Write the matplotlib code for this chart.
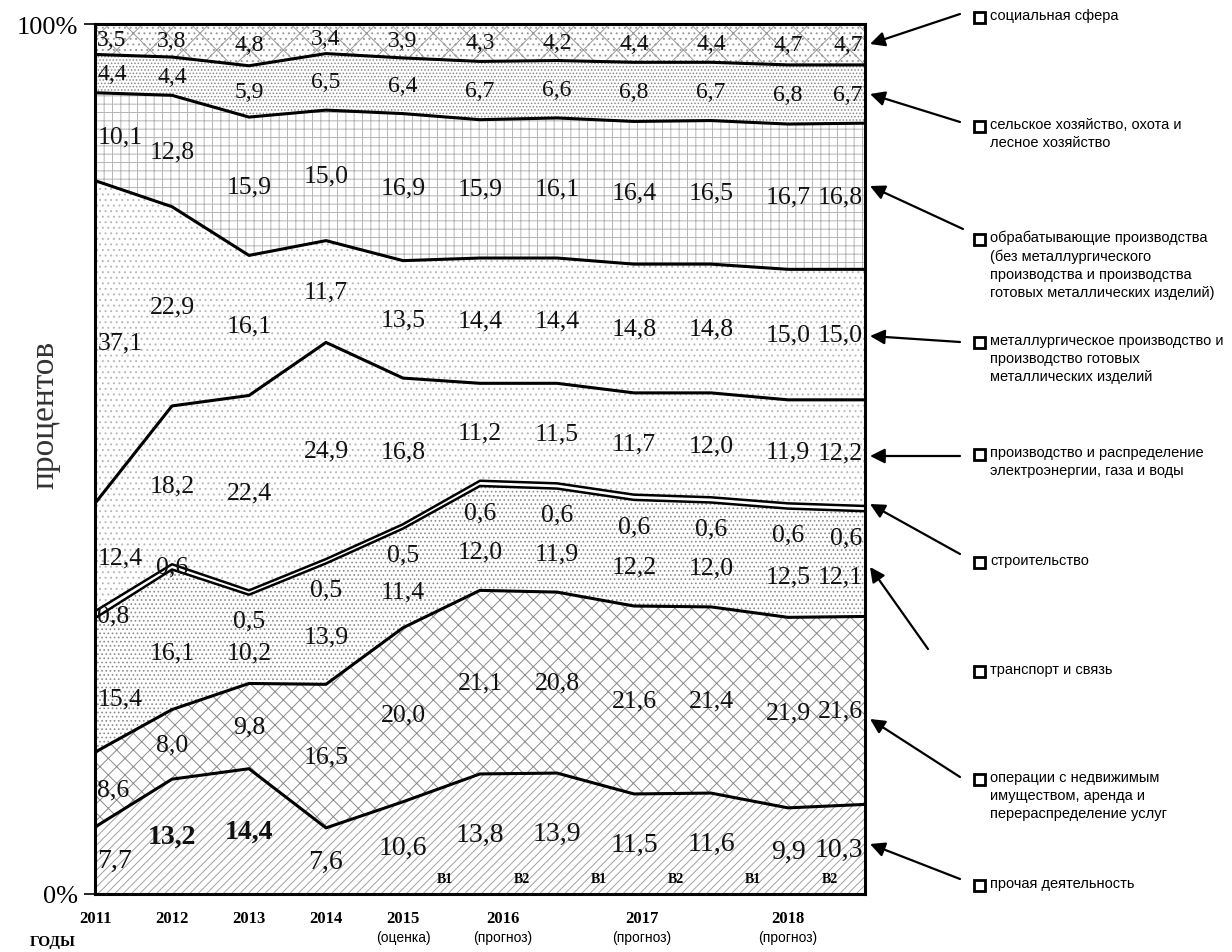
import matplotlib.pyplot as plt
import numpy as np
from matplotlib.patches import Rectangle

# data: структура, % (снизу вверх)
points = ['2011', '2012', '2013', '2014', '2015',
          '2016 B1', '2016 B2', '2017 B1', '2017 B2', '2018 B1', '2018 B2']
years = ['2011', '2012', '2013', '2014', '2015', '2016', '2017', '2018']
year_notes = ['', '', '', '', '(оценка)', '(прогноз)', '(прогноз)', '(прогноз)']
variants = ['B1', 'B2', 'B1', 'B2', 'B1', 'B2']

prochaya = [7.7, 13.2, 14.4, 7.6, 10.6, 13.8, 13.9, 11.5, 11.6, 9.9, 10.3]
nedvizh = [8.6, 8.0, 9.8, 16.5, 20.0, 21.1, 20.8, 21.6, 21.4, 21.9, 21.6]
transport = [15.4, 16.1, 10.2, 13.9, 11.4, 12.0, 11.9, 12.2, 12.0, 12.5, 12.1]
stroit = [0.8, 0.6, 0.5, 0.5, 0.5, 0.6, 0.6, 0.6, 0.6, 0.6, 0.6]
energy = [12.4, 18.2, 22.4, 24.9, 16.8, 11.2, 11.5, 11.7, 12.0, 11.9, 12.2]
metall = [37.1, 22.9, 16.1, 11.7, 13.5, 14.4, 14.4, 14.8, 14.8, 15.0, 15.0]
obrab = [10.1, 12.8, 15.9, 15.0, 16.9, 15.9, 16.1, 16.4, 16.5, 16.7, 16.8]
selsk = [4.4, 4.4, 5.9, 6.5, 6.4, 6.7, 6.6, 6.8, 6.7, 6.8, 6.7]
social = [3.5, 3.8, 4.8, 3.4, 3.9, 4.3, 4.2, 4.4, 4.4, 4.7, 4.7]

names = [
    'прочая деятельность',
    'операции с недвижимым\nимуществом, аренда и\nперераспределение услуг',
    'транспорт и связь',
    'строительство',
    'производство и распределение\nэлектроэнергии, газа и воды',
    'металлургическое производство и\nпроизводство готовых\nметаллических изделий',
    'обрабатывающие производства\n(без металлургического\nпроизводства и производства\nготовых металлических изделий)',
    'сельское хозяйство, охота и\nлесное хозяйство',
    'социальная сфера',
]
series = [prochaya, nedvizh, transport, stroit, energy, metall, obrab, selsk, social]

# оформление слоёв
hatches = ['////', 'xx', '....', '', '...', '...', '++', '.....', 'x...']
hcolors = ['#a0a0a0', '#8a8a8a', '#8c8c8c', 'white', '#b8b8b8', '#b8b8b8',
           '#b4b4b4', '#8a8a8a', '#9a9a9a']

plt.rcParams['hatch.linewidth'] = 0.7
serif = ['Liberation Serif', 'DejaVu Serif']
sans = ['Liberation Sans', 'DejaVu Sans']

W, H = 1232, 953
fig = plt.figure(figsize=(W / 100, H / 100), dpi=100)
ax = fig.add_axes([95 / W, 1 - 895 / H, 770 / W, 870 / H])

x = np.arange(len(points))
vals = np.array(series)
tops = np.cumsum(vals, axis=0)
bottoms = tops - vals

for k in range(len(series)):
    ax.fill_between(x, bottoms[k], tops[k], facecolor='white',
                    edgecolor=hcolors[k], hatch=hatches[k], linewidth=0)
for k in range(len(series) - 1):
    ax.plot(x, tops[k], color='black', lw=2.2 if k not in (2, 3) else 1.8,
            solid_joinstyle='round')

# подписи значений
for k in range(len(series)):
    for i in range(len(x)):
        v = vals[k, i]
        y = (bottoms[k, i] + tops[k, i]) / 2
        if k == 3:
            y = bottoms[k, i] - 3.0
            if i < 2:
                y = bottoms[k, i] + 0.3
        elif k == 2:
            y -= 1.5
        if i == 0:
            xi, ha = 0.03, 'left'
        elif i == len(x) - 1:
            xi, ha = len(x) - 1 - 0.03, 'right'
        else:
            xi, ha = i, 'center'
        fs = 17 if k >= 7 else 18.5
        fw = 'bold' if (k == 0 and i in (1, 2)) else 'normal'
        if k == 0:
            fs = 20
        ax.text(xi, y, f'{v:.1f}'.replace('.', ','), ha=ha, va='center',
                fontsize=fs, family=serif, color='#111111', fontweight=fw)

for j, lab in enumerate(variants):
    ax.text(5 + j - 0.45, 1.8, lab, ha='center', va='center', fontsize=10,
            family=serif, fontweight='bold')

ax.set_xlim(0, len(x) - 1)
ax.set_ylim(0, 100)
ax.set_xticks([])
ax.set_yticks([0, 100])
ax.set_yticklabels(['0%', '100%'], fontsize=19, family=serif)
ax.tick_params(axis='y', length=8, width=1.2, pad=4)
for s in ax.spines.values():
    s.set_linewidth(2.2)

year_pos = [0, 1, 2, 3, 4, 5.3, 7.1, 9.0]
tr = ax.get_xaxis_transform()
for p, yr, note in zip(year_pos, years, year_notes):
    ax.text(p, -0.028, yr, transform=tr, ha='center', va='center',
            fontsize=12, family=serif, fontweight='bold')
    if note:
        ax.text(p, -0.05, note, transform=tr, ha='center', va='center',
                fontsize=10, family=sans)

fig.text(30 / W, 1 - 943 / H, 'ГОДЫ', ha='left', va='center', fontsize=11,
         family=serif, fontweight='bold')
fig.text(45 / W, 1 - 415 / H, 'процентов', ha='center', va='center',
         rotation=90, fontsize=24, family=serif, color='#333333')

# легенда со стрелками
leg_y = [886, 780, 672, 563, 455, 343, 240, 127, 18]
arr_tail = [(960, 880), (960, 778), (928, 650), (960, 555), (960, 457),
            (960, 343), (963, 230), (960, 123), (960, 15)]
arr_tip = [(870, 845), (870, 720), (870, 568), (870, 505), (870, 457),
           (870, 337), (870, 187), (870, 95), (870, 45)]
for k in range(len(series)):
    yy = H - leg_y[k]
    fig.add_artist(Rectangle((974 / W, (yy - 6) / H), 11 / W, 11 / H,
                             transform=fig.transFigure, facecolor='white',
                             edgecolor='black', lw=2))
    fig.text(990 / W, (yy + 9) / H, names[k], ha='left', va='top',
             fontsize=10.5, family=sans, linespacing=1.35)
    (tx, ty), (px, py) = arr_tail[k], arr_tip[k]
    ax.annotate('', xy=(px, H - py), xytext=(tx, H - ty),
                xycoords='figure pixels', textcoords='figure pixels',
                annotation_clip=False,
                arrowprops=dict(arrowstyle='-|>', color='black', lw=1.6,
                                mutation_scale=22, shrinkA=0, shrinkB=0))

fig.savefig('out.png', dpi=100)
